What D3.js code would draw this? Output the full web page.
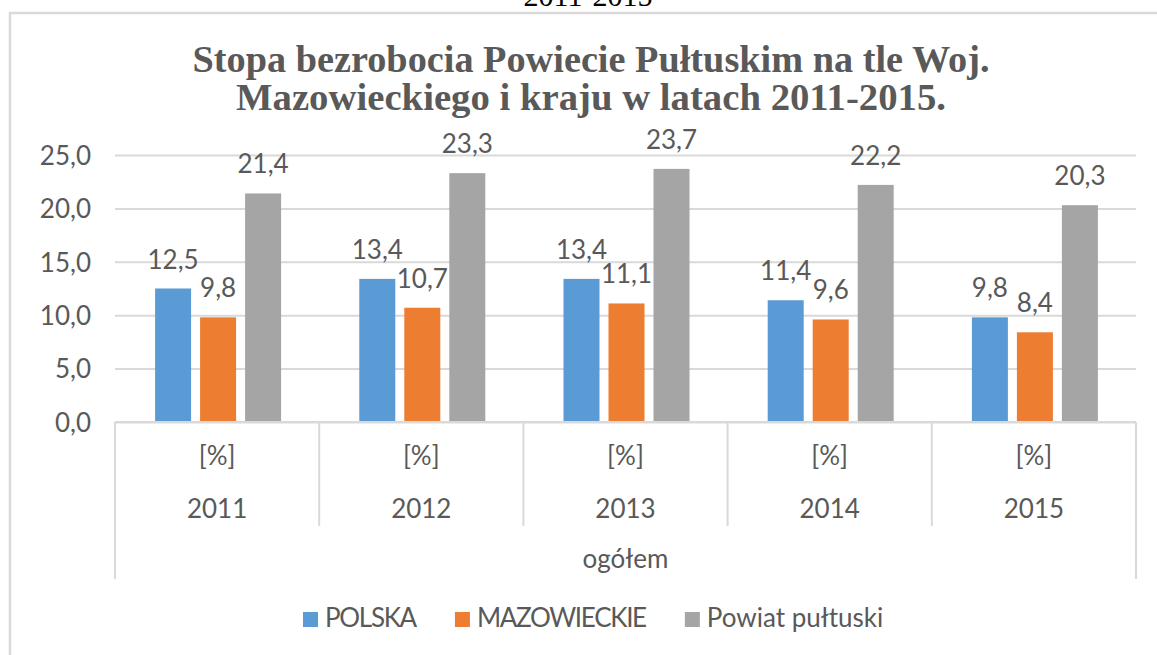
<!DOCTYPE html>
<html>
<head>
<meta charset="utf-8">
<script src="https://cdn.jsdelivr.net/npm/d3@7"></script>
<style>
  html, body { margin: 0; padding: 0; background: #fff; }
  svg { display: block; }
</style>
</head>
<body>
<svg id="chart" width="1157" height="655"></svg>
<script>
// ---- data ----
const years = ["2011", "2012", "2013", "2014", "2015"];
const unitLabel = "[%]";
const groupLabel = "ogółem";
const seriesNames = ["POLSKA", "MAZOWIECKIE", "Powiat pułtuski"];
const polska = [12.5, 13.4, 13.4, 11.4, 9.8];
const mazowieckie = [9.8, 10.7, 11.1, 9.6, 8.4];
const pultuski = [21.4, 23.3, 23.7, 22.2, 20.3];
const yTicks = [0, 5, 10, 15, 20, 25];
const titleLines = ["Stopa bezrobocia Powiecie Pułtuskim na tle Woj.", "Mazowieckiego i kraju w latach 2011-2015."];
const topText = "2011-2015";
const colors = ["#5B9BD5", "#ED7D31", "#A5A5A5"];

const seriesValues = [polska, mazowieckie, pultuski];
const fmt = v => v.toFixed(1).replace(".", ",");

const svg = d3.select("#chart");
const textColor = "#595959";
const lineColor = "#d9d9d9";
const font = "Lato, 'Open Sans', sans-serif";
const serif = "'Liberation Serif', 'Times New Roman', serif";

// cut text at top
svg.append("text").attr("x", 588).attr("y", 6).attr("text-anchor", "middle")
  .attr("font-family", serif).attr("font-size", 30)
  .attr("fill", "#000").text(topText);

// chart border
svg.append("rect").attr("x", 10).attr("y", 13).attr("width", 1200).attr("height", 700)
  .attr("fill", "none").attr("stroke", lineColor).attr("stroke-width", 2.5);

// title
const titleWidths = [797, 710];
titleLines.forEach((t, i) => {
  svg.append("text").attr("x", 591).attr("y", 72 + i * 38).attr("text-anchor", "middle")
    .attr("font-family", serif).attr("font-weight", "bold")
    .attr("font-size", 37).attr("fill", textColor)
    .attr("textLength", titleWidths[i]).attr("lengthAdjust", "spacingAndGlyphs")
    .text(t);
});

// scales
const left = 115, right = 1136, y0 = 422, yTop = 155;
const x0 = d3.scaleBand().domain(years).range([left, right]);
const groupW = 126;
const x1 = d3.scaleBand().domain(seriesNames)
  .range([(x0.bandwidth() - groupW) / 2 + 1, (x0.bandwidth() + groupW) / 2 + 1]).paddingInner(0.2);
const y = d3.scaleLinear().domain([0, 25]).range([y0, yTop]);

// y axis with gridlines
const yAxis = d3.axisLeft(y).tickValues(yTicks).tickFormat(fmt)
  .tickSize(-(right - left)).tickPadding(24);
const gy = svg.append("g").attr("transform", `translate(${left},0)`).call(yAxis);
gy.select(".domain").remove();
gy.selectAll(".tick line").attr("stroke", lineColor).attr("stroke-width", 2);
gy.selectAll(".tick text").attr("font-family", font).attr("font-size", 26)
  .attr("fill", textColor).attr("dy", "0.36em");

// bars
const groups = svg.append("g").selectAll("g").data(years).join("g")
  .attr("transform", d => `translate(${x0(d)},0)`);
seriesNames.forEach((s, si) => {
  groups.append("rect")
    .attr("x", x1(s)).attr("width", x1.bandwidth())
    .attr("y", (d, i) => y(seriesValues[si][i]))
    .attr("height", (d, i) => y0 - y(seriesValues[si][i]))
    .attr("fill", colors[si]);
  groups.append("text")
    .attr("x", x1(s) + x1.bandwidth() / 2)
    .attr("y", (d, i) => y(seriesValues[si][i]) - 20)
    .attr("text-anchor", "middle").attr("font-family", font).attr("font-size", 26)
    .attr("fill", textColor).text((d, i) => fmt(seriesValues[si][i]));
});

// category axis
const ax = svg.append("g");
ax.append("line").attr("x1", left).attr("x2", right).attr("y1", y0).attr("y2", y0)
  .attr("stroke", lineColor).attr("stroke-width", 2);
years.forEach((yr, i) => {
  if (i > 0) {
    ax.append("line").attr("x1", x0(yr)).attr("x2", x0(yr)).attr("y1", y0).attr("y2", 526)
      .attr("stroke", lineColor).attr("stroke-width", 2);
  }
  const cx = x0(yr) + x0.bandwidth() / 2;
  ax.append("text").attr("x", cx).attr("y", 465).attr("text-anchor", "middle")
    .attr("font-family", font).attr("font-size", 26).attr("fill", textColor).text(unitLabel);
  ax.append("text").attr("x", cx).attr("y", 518).attr("text-anchor", "middle")
    .attr("font-family", font).attr("font-size", 26).attr("fill", textColor).text(yr);
});
[left, right].forEach(xx => {
  ax.append("line").attr("x1", xx).attr("x2", xx).attr("y1", y0).attr("y2", 579)
    .attr("stroke", lineColor).attr("stroke-width", 2);
});
ax.append("text").attr("x", (left + right) / 2).attr("y", 568).attr("text-anchor", "middle")
  .attr("font-family", font).attr("font-size", 26).attr("fill", textColor).text(groupLabel);

// legend
const lg = svg.append("g");
let lx = 303;
seriesNames.forEach((s, i) => {
  lg.append("rect").attr("x", lx).attr("y", 612).attr("width", 15).attr("height", 15).attr("fill", colors[i]);
  const t = lg.append("text").attr("x", lx + 22).attr("y", 627)
    .attr("font-family", font).attr("font-size", 26).attr("fill", textColor)
    .attr("letter-spacing", s === s.toUpperCase() ? -1.3 : 0).text(s);
  lx += 22 + t.node().getComputedTextLength() + 39;
});
</script>
</body>
</html>
